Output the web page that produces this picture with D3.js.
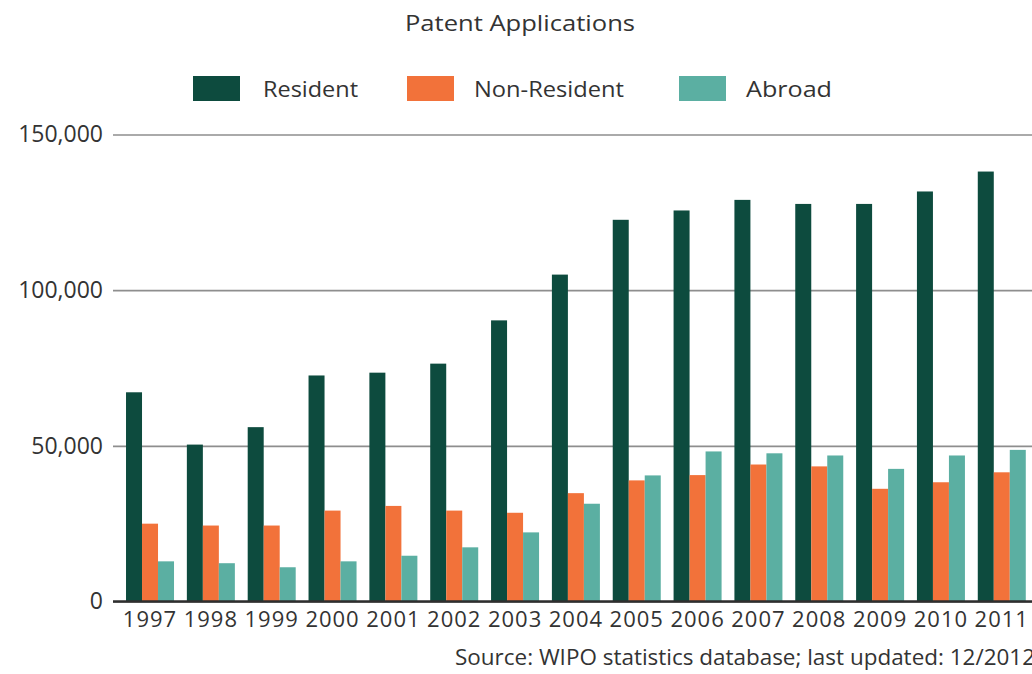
<!DOCTYPE html>
<html lang="en">
<head>
    <meta charset="UTF-8">
    <title>Patent Applications</title>
    <script src="https://cdn.jsdelivr.net/npm/d3@7"></script>
    <style>
        body { margin: 0; background: #fff; }
        text { font-family: "Open Sans", "Liberation Sans", sans-serif; fill: #333; }
    </style>
</head>
<body>
<script>

    var years = ["1997", "1998", "1999", "2000", "2001", "2002", "2003", "2004",
                 "2005", "2006", "2007", "2008", "2009", "2010", "2011"];
    var resident    = [67200, 50400, 56000, 72600, 73500, 76400, 90300, 105000,
                       122600, 125600, 129000, 127700, 127700, 131700, 138100];
    var nonResident = [25000, 24400, 24400, 29200, 30700, 29200, 28500, 34800,
                       38900, 40600, 44000, 43400, 36200, 38300, 41500];
    var abroad      = [12900, 12300, 11000, 12900, 14700, 17400, 22200, 31400,
                       40500, 48200, 47600, 46900, 42600, 46900, 48700];

    var seriesNames = ["Resident", "Non-Resident", "Abroad"];
    var colors = ["#0d4b3e", "#f2723a", "#5bafa2"];
    var yTicks = [0, 50000, 100000, 150000];

    var W = 1032, H = 674;
    var plotLeft = 113, plotBottom = 601.5, plotTop = 134.5;

    var svg = d3.select("body")
            .append("svg")
            .attr("width", W)
            .attr("height", H);

    var x0 = d3.scaleBand()
            .domain(years)
            .range([119.6, 1032.2])
            .paddingInner(0.211)
            .paddingOuter(0.1055);

    var x1 = d3.scaleBand()
            .domain(seriesNames)
            .range([0, x0.bandwidth()]);

    var y = d3.scaleLinear()
            .domain([0, 150000])
            .range([plotBottom, plotTop]);

    // gridlines + y labels
    var yAxis = svg.append("g")
            .attr("transform", "translate(" + plotLeft + ",0)")
            .call(d3.axisLeft(y)
                .tickValues(yTicks)
                .tickFormat(d3.format(","))
                .tickSize(-(W - plotLeft))
                .tickPadding(10));
    yAxis.select(".domain").remove();
    yAxis.selectAll("line").attr("stroke", "#8e8e8e").attr("stroke-width", 1.6);
    yAxis.selectAll("text")
            .style("font-size", "23px")
            .attr("fill", "#333");

    // bars
    var table = years.map(function(yr, i) {
        return {year: yr, values: [resident[i], nonResident[i], abroad[i]]};
    });

    svg.append("g")
            .selectAll("g")
            .data(table)
            .enter()
            .append("g")
            .attr("transform", function(d) { return "translate(" + x0(d.year) + ",0)"; })
            .selectAll("rect")
            .data(function(d) {
                return d.values.map(function(v, j) { return {key: seriesNames[j], value: v, c: colors[j]}; });
            })
            .enter()
            .append("rect")
            .attr("x", function(d) { return x1(d.key); })
            .attr("width", x1.bandwidth())
            .attr("y", function(d) { return y(d.value); })
            .attr("height", function(d) { return y(0) - y(d.value); })
            .attr("fill", function(d) { return d.c; });

    // baseline
    svg.append("line")
            .attr("x1", plotLeft).attr("x2", W)
            .attr("y1", y(0)).attr("y2", y(0))
            .attr("stroke", "#2e2e2e")
            .attr("stroke-width", 2.5);

    // x labels
    var xAxis = svg.append("g")
            .attr("transform", "translate(0," + plotBottom + ")")
            .call(d3.axisBottom(x0).tickSize(0).tickPadding(10));
    xAxis.select(".domain").remove();
    xAxis.selectAll("text")
            .style("font-size", "22px")
            .attr("letter-spacing", "1px")
            .attr("fill", "#333");

    // title
    svg.append("text")
            .attr("x", 405).attr("y", 31)
            .attr("textLength", 230)
            .attr("lengthAdjust", "spacingAndGlyphs")
            .style("font-size", "22px")
            .text("Patent Applications");

    // legend
    var legendX = [193, 407, 679];
    var legendW = [95, 150, 86];
    var legend = svg.append("g")
            .selectAll("g")
            .data(seriesNames)
            .enter()
            .append("g")
            .attr("transform", function(d, i) { return "translate(" + legendX[i] + ",76)"; });
    legend.append("rect")
            .attr("width", 47).attr("height", 25)
            .attr("fill", function(d, i) { return colors[i]; });
    legend.append("text")
            .attr("x", function(d, i) { return i === 0 ? 70 : 67; })
            .attr("y", 21)
            .attr("textLength", function(d, i) { return legendW[i]; })
            .attr("lengthAdjust", "spacingAndGlyphs")
            .style("font-size", "22px")
            .text(function(d) { return d; });

    // source
    svg.append("text")
            .attr("x", 455).attr("y", 665)
            .attr("textLength", 580)
            .attr("lengthAdjust", "spacingAndGlyphs")
            .style("font-size", "21px")
            .text("Source: WIPO statistics database; last updated: 12/2012");

</script>
</body>
</html>
